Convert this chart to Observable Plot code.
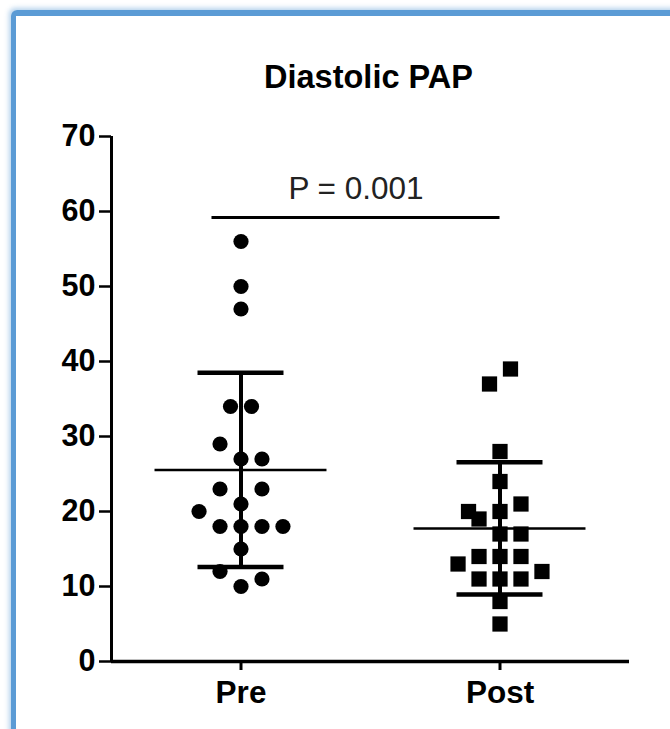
<!DOCTYPE html>
<html>
<head>
<meta charset="utf-8">
<script src="https://cdn.jsdelivr.net/npm/d3@7"></script>
<script src="https://cdn.jsdelivr.net/npm/@observablehq/plot@0.6"></script>
<style>
  html, body { margin: 0; padding: 0; background: #fff; width: 670px; height: 729px; overflow: hidden;
    font-family: "Liberation Sans", Arial, sans-serif; }
  #frame { position: absolute; left: 11px; top: 10px; width: 720px; height: 780px;
    border-left: 5px solid #5b9bd5; border-top: 6px solid #5b9bd5; border-top-left-radius: 6px;
    box-shadow: -2px -2px 5px rgba(91,155,213,0.45); }
  #title { position: absolute; left: 0; top: 61px; width: 737px; text-align: center;
    font-weight: bold; font-size: 32.5px; line-height: 32px; color: #000; }
  #chart { position: absolute; left: 0; top: 110px; }
  #chart svg { font-weight: bold; }
</style>
</head>
<body>
<div id="frame"></div>
<div id="title">Diastolic PAP</div>
<div id="chart"></div>
<script>
// ---- data ----
const groups = ["Pre", "Post"];
const preValues  = [56, 50, 47, 34, 34, 29, 27, 27, 23, 23, 21, 20, 18, 18, 18, 18, 15, 12, 11, 10];
const preColumns = [0, 0, 0, -0.5, 0.5, -1, 0, 1, -1, 1, 0, -2, -1, 0, 1, 2, 0, -1, 1, 0];
const postValues  = [39, 37, 28, 24, 21, 20, 20, 19, 17, 17, 14, 14, 14, 13, 12, 11, 11, 11, 8, 5];
const postColumns = [0.5, -0.5, 0, 0, 1, -1.5, 0, -1, 0, 1, -1, 0, 1, -2, 2, -1, 0, 1, 0, 0];
const yTicks = [0, 10, 20, 30, 40, 50, 60, 70];
const pBracket = [{from: "Pre", to: "Post", value: 59.2, label: "P = 0.001"}];

// ---- derived tables ----
const colStep = 0.081;           // swarm column spacing (x units)
const meanHalf = 0.332, capHalf = 0.166;
const seriesValues = [preValues, postValues];
const seriesColumns = [preColumns, postColumns];
const points = groups.flatMap((g, i) => seriesValues[i].map((v, j) => ({
  group: g, gi: i, value: v, x: i + seriesColumns[i][j] * colStep
})));
const stats = groups.map((g, i) => {
  const m = d3.mean(seriesValues[i]), sd = d3.deviation(seriesValues[i]);
  return {group: g, gi: i, mean: m, lo: m - sd, hi: m + sd};
});
const bracket = pBracket.map(b => ({...b, x1: groups.indexOf(b.from) - 0.112, x2: groups.indexOf(b.to)}));
const xDomain = [-0.5, groups.length - 0.5];

const chart = Plot.plot({
  width: 670,
  height: 619,
  marginTop: 26,
  marginBottom: 68,
  marginLeft: 111,
  marginRight: 41,
  style: {fontFamily: "'Liberation Sans', Arial, sans-serif", color: "#000", background: "transparent", overflow: "visible"},
  x: {domain: xDomain},
  y: {domain: [0, 70]},
  marks: [
    Plot.axisY({ticks: yTicks, tickSize: 12, tickPadding: 4, fontSize: 30.5, strokeWidth: 2.5, label: null}),
    Plot.axisX({ticks: groups.map((g, i) => i), tickFormat: i => groups[i], tickSize: 9, tickPadding: 10, fontSize: 31.5, strokeWidth: 3, label: null}),
    Plot.ruleX([xDomain[0]], {strokeWidth: 3}),
    Plot.ruleY([0], {strokeWidth: 3.5}),
    Plot.dot(points.filter(d => d.gi === 0), {x: "x", y: "value", r: 7.6, fill: "#000", symbol: "circle"}),
    Plot.dot(points.filter(d => d.gi === 1), {x: "x", y: "value", r: 8.6, fill: "#000", symbol: "square"}),
    Plot.ruleX(stats, {x: "gi", y1: "lo", y2: "hi", strokeWidth: 4}),
    Plot.ruleY(stats, {y: "mean", x1: d => d.gi - meanHalf, x2: d => d.gi + meanHalf, strokeWidth: 2.5}),
    Plot.ruleY(stats, {y: "hi", x1: d => d.gi - capHalf, x2: d => d.gi + capHalf, strokeWidth: 4.5}),
    Plot.ruleY(stats, {y: "lo", x1: d => d.gi - capHalf, x2: d => d.gi + capHalf, strokeWidth: 4.5}),
    Plot.ruleY(bracket, {y: "value", x1: "x1", x2: "x2", strokeWidth: 3}),
    Plot.text(bracket, {x: d => (d.x1 + d.x2) / 2, y: "value", text: "label", dy: -19, lineAnchor: "bottom",
      fontSize: 31.5, fontWeight: "normal", fill: "#222"})
  ]
});
document.getElementById("chart").appendChild(chart);
</script>
</body>
</html>
